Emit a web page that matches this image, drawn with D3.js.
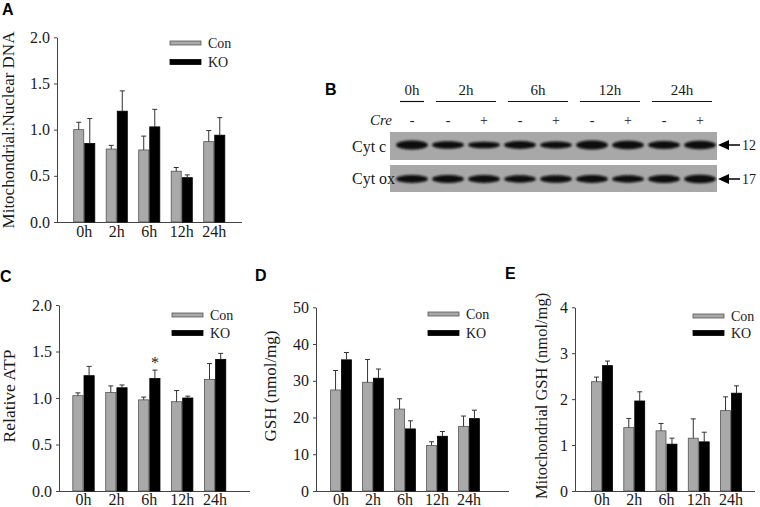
<!DOCTYPE html>
<html><head><meta charset="utf-8">
<script src="https://cdn.jsdelivr.net/npm/d3@7"></script>
<style>
body{margin:0;background:#fff}
svg{display:block}
text{font-family:"Liberation Serif","Times New Roman",serif;fill:#1a1a1a}
.plabel{font-family:"Liberation Sans",Arial,sans-serif;font-weight:bold;fill:#000}
</style>
</head><body>
<svg id="fig" width="760" height="507"></svg>
<script>
// ---------- data ----------
const timepoints = ["0h", "2h", "6h", "12h", "24h"];
const seriesNames = ["Con", "KO"];

// A: Mitochondrial:Nuclear DNA
const mtDnaCon    = [1.00, 0.79, 0.78, 0.55, 0.87];
const mtDnaConErr = [0.08, 0.04, 0.15, 0.04, 0.12];
const mtDnaKO     = [0.85, 1.20, 1.03, 0.48, 0.94];
const mtDnaKOErr  = [0.27, 0.22, 0.19, 0.03, 0.19];
const ticksA = [0, 0.5, 1.0, 1.5, 2.0];

// C: Relative ATP
const atpCon    = [1.025, 1.06, 0.98, 0.96, 1.20];
const atpConErr = [0.03, 0.07, 0.03, 0.12, 0.17];
const atpKO     = [1.24, 1.11, 1.21, 1.00, 1.415];
const atpKOErr  = [0.10, 0.03, 0.09, 0.02, 0.065];
const atpStars  = ["", "", "*", "", ""];
const ticksC = [0, 0.5, 1.0, 1.5, 2.0];

// D: GSH (nmol/mg)
const gshCon    = [27.5, 29.6, 22.3, 12.4, 17.6];
const gshConErr = [5.3, 6.2, 2.8, 1.0, 2.8];
const gshKO     = [35.7, 30.7, 16.9, 14.9, 19.7];
const gshKOErr  = [2.0, 2.5, 2.2, 1.3, 2.3];
const ticksD = [0, 10, 20, 30, 40, 50];

// E: Mitochondrial GSH (nmol/mg)
const mgshCon    = [2.38, 1.38, 1.31, 1.15, 1.75];
const mgshConErr = [0.10, 0.20, 0.16, 0.42, 0.30];
const mgshKO     = [2.73, 1.96, 1.02, 1.07, 2.13];
const mgshKOErr  = [0.10, 0.20, 0.13, 0.21, 0.16];
const ticksE = [0, 1, 2, 3, 4];

// B: western blot
const blotGroups = ["0h", "2h", "6h", "12h", "24h"];
const blotGroupLanes = [[0, 0], [1, 2], [3, 4], [5, 6], [7, 8]];
const creLabels = ["-", "-", "+", "-", "+", "-", "+", "-", "+"];
const cytCBands  = [1.00, 0.78, 0.62, 0.80, 0.68, 0.98, 0.95, 0.85, 0.95];
const cytOxBands = [0.82, 0.85, 0.80, 0.72, 0.78, 0.80, 0.72, 0.85, 0.92];
const blotRows = ["Cyt c", "Cyt ox"];
const blotMarkers = ["12", "17"];

// ---------- drawing ----------
const svg = d3.select("#fig");
const CON_FILL = "#a9a9a9", KO_FILL = "#000", AXIS = "#444";

function panelLetter(t, x, y) {
  svg.append("text").attr("class", "plabel").attr("x", x).attr("y", y)
    .attr("font-size", 16).text(t);
}

function drawBarPanel(p) {
  const g = svg.append("g");
  const y = d3.scaleLinear().domain([0, p.max]).range([p.yBot, p.yTop]);
  const x = d3.scaleBand().domain(timepoints)
    .range([p.c0 - p.step / 2, p.c0 + p.step * 4.5])
    .paddingInner(0.32).paddingOuter(0.16);
  const xs = d3.scaleBand().domain(seriesNames).range([0, x.bandwidth()]);

  // y axis
  const ax = g.append("g").attr("transform", `translate(${p.axisX},0)`)
    .call(d3.axisLeft(y).tickValues(p.ticks).tickSize(3).tickSizeOuter(0)
      .tickPadding(4).tickFormat(p.fmt));
  ax.select(".domain").attr("stroke", AXIS);
  ax.selectAll(".tick line").attr("stroke", AXIS);
  ax.selectAll(".tick text").attr("font-family", '"Liberation Serif",serif')
    .attr("font-size", 16).attr("fill", "#1a1a1a");

  // x axis line
  g.append("line").attr("x1", p.axisX).attr("x2", p.xEnd)
    .attr("y1", p.yBot + 0.5).attr("y2", p.yBot + 0.5)
    .attr("stroke", AXIS);

  const series = [
    { name: "Con", vals: p.con, errs: p.conErr, fill: CON_FILL, stroke: "#555" },
    { name: "KO", vals: p.ko, errs: p.koErr, fill: KO_FILL, stroke: "#000" }
  ];
  series.forEach(s => {
    const data = timepoints.map((t, i) => ({ t, v: s.vals[i], e: s.errs[i] }));
    g.selectAll(null).data(data).enter().append("rect")
      .attr("x", d => x(d.t) + xs(s.name) + 0.5)
      .attr("width", xs.bandwidth() - 1)
      .attr("y", d => y(d.v))
      .attr("height", d => y(0) - y(d.v))
      .attr("fill", s.fill).attr("stroke", s.stroke).attr("stroke-width", 0.8);
    const cx = d => x(d.t) + xs(s.name) + xs.bandwidth() / 2;
    g.selectAll(null).data(data).enter().append("line")
      .attr("x1", cx).attr("x2", cx)
      .attr("y1", d => y(d.v)).attr("y2", d => y(d.v + d.e))
      .attr("stroke", "#333").attr("stroke-width", 1);
    g.selectAll(null).data(data).enter().append("line")
      .attr("x1", d => cx(d) - 2.5).attr("x2", d => cx(d) + 2.5)
      .attr("y1", d => y(d.v + d.e)).attr("y2", d => y(d.v + d.e))
      .attr("stroke", "#333").attr("stroke-width", 1);
    if (s.name === "KO" && p.stars) {
      const sd = data.map((d, i) => ({ ...d, star: p.stars[i] })).filter(d => d.star);
      g.selectAll(null).data(sd).enter().append("text")
        .attr("x", cx).attr("y", d => y(d.v + d.e) - 2)
        .attr("text-anchor", "middle").attr("font-size", 16).attr("fill", "#111")
        .text(d => d.star);
    }
  });

  // x labels
  g.selectAll(null).data(timepoints).enter().append("text")
    .attr("x", d => x(d) + x.bandwidth() / 2).attr("y", p.xLabelY)
    .attr("text-anchor", "middle").attr("font-size", 16).text(d => d);

  // y label
  g.append("text")
    .attr("transform", `translate(${p.yLabX},${p.yLabY}) rotate(-90)`)
    .attr("text-anchor", "middle").attr("dy", "0.35em")
    .attr("font-size", p.yLabSize).text(p.yLabel);

  // legend
  series.forEach((s, i) => {
    const ly = p.legY + i * p.legGap;
    g.append("rect").attr("x", p.legX).attr("y", ly - (i ? 2.5 : 2))
      .attr("width", 31).attr("height", i ? 5 : 4)
      .attr("fill", s.fill).attr("stroke", s.stroke).attr("stroke-width", 0.8);
    g.append("text").attr("x", p.legX + 38).attr("y", ly).attr("dy", "0.35em")
      .attr("font-size", 14).text(s.name);
  });
}

// Panel A
panelLetter("A", 2, 15);
drawBarPanel({
  con: mtDnaCon, conErr: mtDnaConErr, ko: mtDnaKO, koErr: mtDnaKOErr,
  max: 2.0, ticks: ticksA, fmt: d3.format(".1f"),
  axisX: 57, yTop: 37.3, yBot: 222, c0: 84.25, step: 32.5, xEnd: 242, xLabelY: 237,
  yLabel: "Mitochondrial:Nuclear DNA", yLabX: 8, yLabY: 130, yLabSize: 17,
  legX: 170, legY: 43, legGap: 19
});

// Panel C
panelLetter("C", 0, 282);
drawBarPanel({
  con: atpCon, conErr: atpConErr, ko: atpKO, koErr: atpKOErr, stars: atpStars,
  max: 2.0, ticks: ticksC, fmt: d3.format(".1f"),
  axisX: 59, yTop: 305, yBot: 491, c0: 83.5, step: 32.9, xEnd: 250, xLabelY: 505,
  yLabel: "Relative ATP", yLabX: 9, yLabY: 396, yLabSize: 17.5,
  legX: 172, legY: 315, legGap: 18
});

// Panel D
panelLetter("D", 255, 281);
drawBarPanel({
  con: gshCon, conErr: gshConErr, ko: gshKO, koErr: gshKOErr,
  max: 50, ticks: ticksD, fmt: d3.format("d"),
  axisX: 316, yTop: 307.3, yBot: 491, c0: 341, step: 32, xEnd: 509, xLabelY: 505,
  yLabel: "GSH (nmol/mg)", yLabX: 270, yLabY: 386, yLabSize: 17,
  legX: 428, legY: 314, legGap: 19
});

// Panel E
panelLetter("E", 505, 279);
drawBarPanel({
  con: mgshCon, conErr: mgshConErr, ko: mgshKO, koErr: mgshKOErr,
  max: 4, ticks: ticksE, fmt: d3.format("d"),
  axisX: 575, yTop: 307.3, yBot: 491, c0: 602, step: 32.25, xEnd: 755, xLabelY: 505,
  yLabel: "Mitochondrial GSH (nmol/mg)", yLabX: 541, yLabY: 396, yLabSize: 16.5,
  legX: 693, legY: 316, legGap: 17
});

// Panel B: western blot
panelLetter("B", 325, 95);
(function drawBlot() {
  const g = svg.append("g");
  const lane = d3.scalePoint().domain(d3.range(creLabels.length)).range([412, 700]);
  const defs = svg.append("defs");
  defs.append("filter").attr("id", "soft").attr("x", "-20%").attr("y", "-100%")
    .attr("width", "140%").attr("height", "300%")
    .append("feGaussianBlur").attr("stdDeviation", 0.9);

  // group headers
  blotGroups.forEach((gname, i) => {
    const [a, b] = blotGroupLanes[i];
    const x1 = lane(a) - 12, x2 = lane(b) + 12;
    g.append("text").attr("x", (x1 + x2) / 2).attr("y", 95)
      .attr("text-anchor", "middle").attr("font-size", 15).text(gname);
    g.append("line").attr("x1", x1).attr("x2", x2).attr("y1", 101.5).attr("y2", 101.5)
      .attr("stroke", "#111").attr("stroke-width", 1.2);
  });
  g.append("text").attr("x", 392).attr("y", 125).attr("text-anchor", "end")
    .attr("font-size", 15).attr("font-style", "italic").text("Cre");
  g.selectAll(null).data(creLabels).enter().append("text")
    .attr("x", (d, i) => lane(i)).attr("y", 125).attr("text-anchor", "middle")
    .attr("font-size", 14).text(d => d);

  const rows = [
    { name: blotRows[0], marker: blotMarkers[0], bands: cytCBands, y0: 132, y1: 160, by: 145 },
    { name: blotRows[1], marker: blotMarkers[1], bands: cytOxBands, y0: 165, y1: 192, by: 179 }
  ];
  rows.forEach(r => {
    g.append("rect").attr("x", 390).attr("y", r.y0).attr("width", 327).attr("height", r.y1 - r.y0)
      .attr("fill", "#a8a8a8");
    g.selectAll(null).data(r.bands).enter().append("ellipse")
      .attr("cx", (d, i) => lane(i)).attr("cy", r.by)
      .attr("rx", 16).attr("ry", d => 1.5 + 3 * d)
      .attr("fill", "#0a0a0a").attr("filter", "url(#soft)");
    g.append("text").attr("x", 352).attr("y", (r.y0 + r.y1) / 2).attr("dy", "0.35em")
      .attr("font-size", 16).text(r.name);
    const ay = r.by;
    g.append("path").attr("d", `M718,${ay} L729,${ay - 5} L729,${ay + 5} Z`).attr("fill", "#000");
    g.append("line").attr("x1", 728).attr("x2", 740).attr("y1", ay).attr("y2", ay)
      .attr("stroke", "#000").attr("stroke-width", 1.5);
    g.append("text").attr("x", 742).attr("y", ay).attr("dy", "0.35em")
      .attr("font-size", 14).text(r.marker);
  });
})();
</script>
</body></html>
